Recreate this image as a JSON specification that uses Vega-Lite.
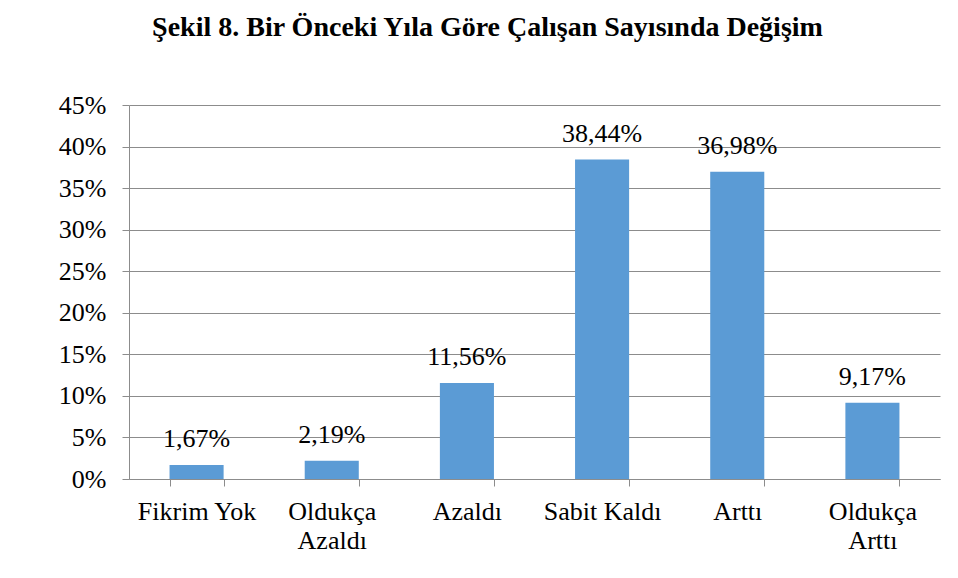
{
  "$schema": "https://vega.github.io/schema/vega-lite/v6.json",
  "width": 811,
  "height": 374,
  "autosize": {"type": "none"},
  "padding": {"left": 129, "top": 105, "right": 18, "bottom": 99},
  "background": "white",
  "config": {
    "locale": {"number": {"decimal": ",", "thousands": ".", "grouping": [3], "currency": ["", " TL"]}},
    "view": {"stroke": null},
    "font": "Liberation Serif, Times New Roman, serif"
  },
  "title": {
    "text": "Şekil 8. Bir Önceki Yıla Göre Çalışan Sayısında Değişim",
    "font": "Liberation Serif, Times New Roman, serif",
    "fontSize": 28,
    "fontWeight": "bold",
    "color": "black",
    "anchor": "middle",
    "frame": "group",
    "dx": -47,
    "baseline": "alphabetic",
    "offset": 28
  },
  "data": {
    "values": [
      {"kategori": "Fikrim Yok", "oran": 0.0167},
      {"kategori": "Oldukça|Azaldı", "oran": 0.0219},
      {"kategori": "Azaldı", "oran": 0.1156},
      {"kategori": "Sabit Kaldı", "oran": 0.3844},
      {"kategori": "Arttı", "oran": 0.3698},
      {"kategori": "Oldukça|Arttı", "oran": 0.0917}
    ]
  },
  "encoding": {
    "x": {
      "field": "kategori",
      "type": "nominal",
      "sort": null,
      "scale": {"paddingInner": 0.6, "paddingOuter": 0.3},
      "axis": {
        "title": null,
        "labelAngle": 0,
        "labelExpr": "isString(datum.value) ? split(datum.value, '|') : ''",
        "labelFont": "Liberation Serif, Times New Roman, serif",
        "labelFontSize": 26,
        "labelColor": "black",
        "labelBaseline": "alphabetic",
        "labelLineHeight": 29,
        "labelPadding": 33,
        "tickBand": "extent",
        "tickSize": 7,
        "tickColor": "#8c8c8c",
        "domainColor": "#8c8c8c",
        "grid": false
      }
    },
    "y": {
      "field": "oran",
      "type": "quantitative",
      "scale": {"domain": [0, 0.45], "nice": false},
      "axis": {
        "title": null,
        "values": [0, 0.05, 0.1, 0.15, 0.2, 0.25, 0.3, 0.35, 0.4, 0.45],
        "format": ".0%",
        "labelFont": "Liberation Serif, Times New Roman, serif",
        "labelFontSize": 26,
        "labelColor": "black",
        "labelPadding": 16,
        "tickSize": 7,
        "tickColor": "#8c8c8c",
        "domainColor": "#8c8c8c",
        "gridColor": "#8c8c8c",
        "grid": true
      }
    }
  },
  "layer": [
    {"mark": {"type": "bar", "color": "#5b9bd5"}},
    {
      "mark": {"type": "text", "baseline": "alphabetic", "dy": -18, "font": "Liberation Serif, Times New Roman, serif", "fontSize": 26, "color": "black"},
      "encoding": {"text": {"field": "oran", "type": "quantitative", "format": ".2%"}}
    }
  ]
}
